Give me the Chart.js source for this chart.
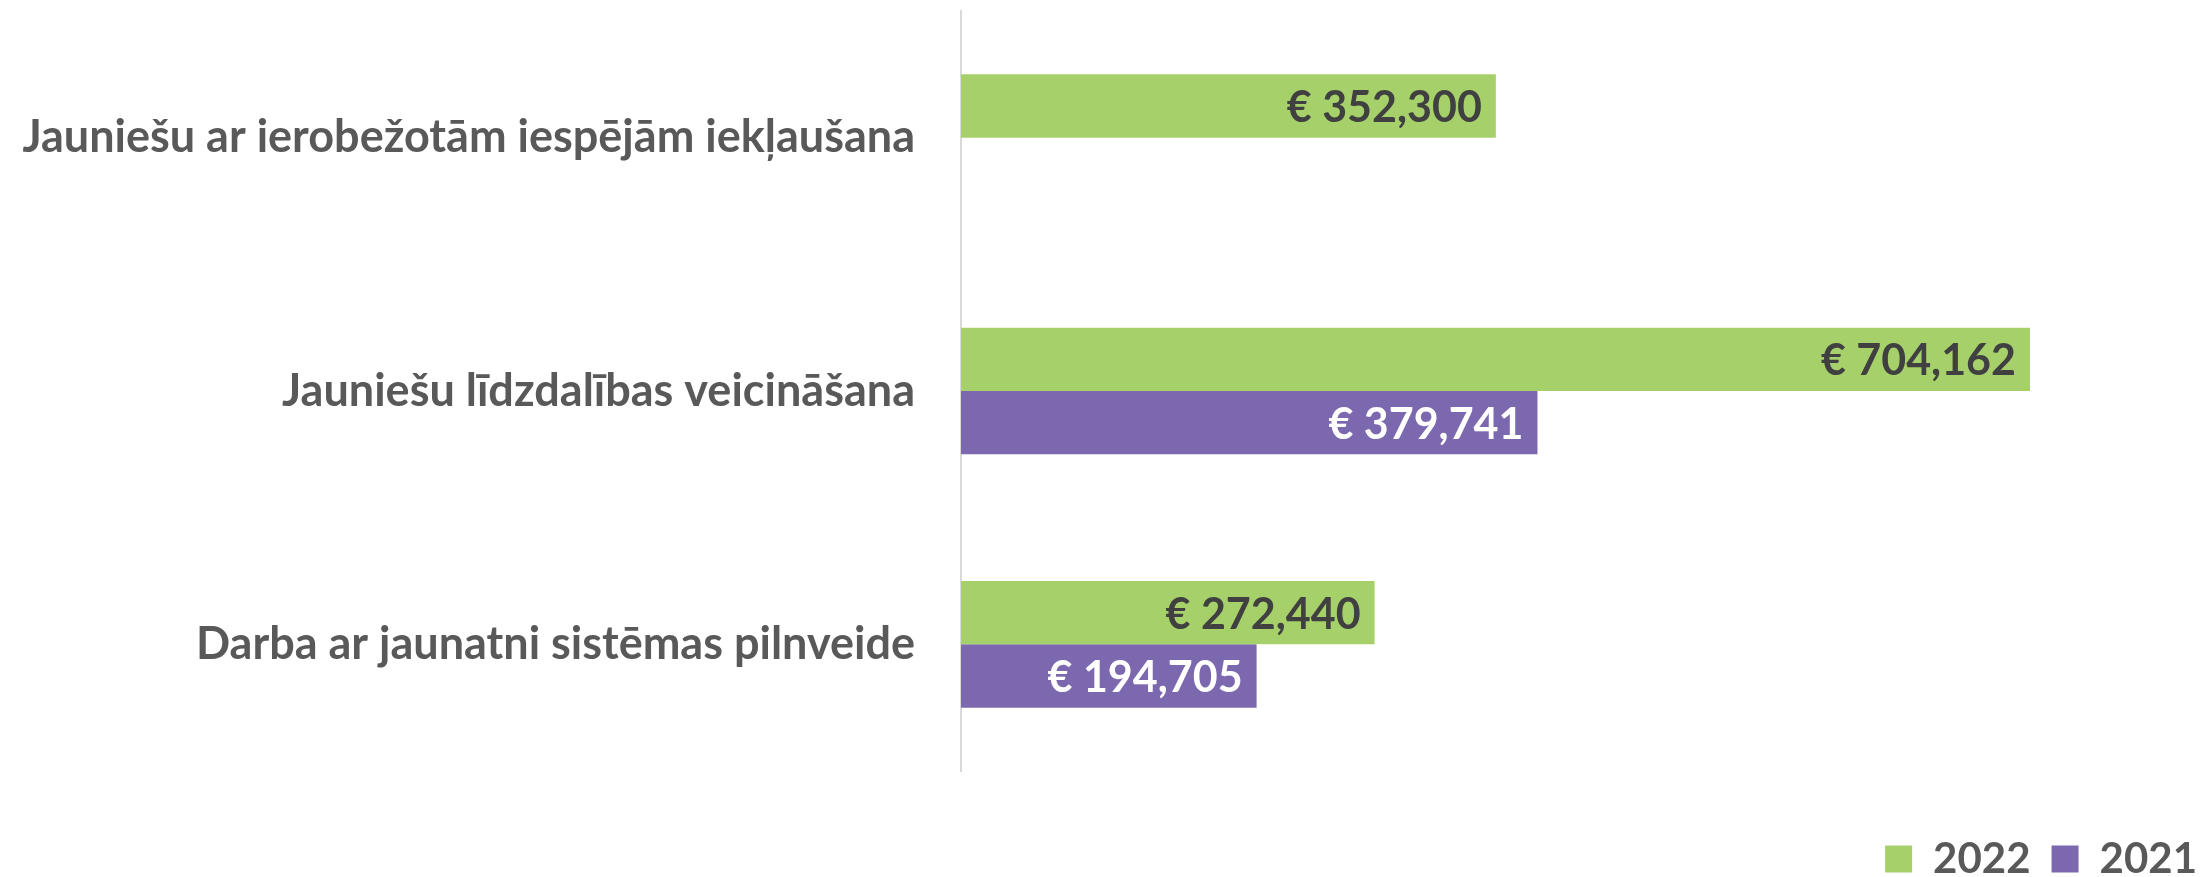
<!DOCTYPE html>
<html>
<head>
<meta charset="utf-8">
<script src="https://cdn.jsdelivr.net/npm/chart.js@4/dist/chart.umd.min.js"></script>
<style>
    html, body { margin: 0; padding: 0; background: #fff; overflow: hidden; }
    /* canvas a bit larger than the window so the legend sits low and right, as in the original */
    #wrap { width: 2218px; height: 890px; }
</style>
</head>
<body>
<div id="wrap"><canvas id="budgetChart"></canvas></div>
<script>
// Chart data
const categories = [
    'Jauniešu ar ierobežotām iespējām iekļaušana',
    'Jauniešu līdzdalības veicināšana',
    'Darba ar jaunatni sistēmas pilnveide'
];
const seriesNames = ['2022', '2021'];
const values2022 = [352300, 704162, 272440];
const values2021 = [null, 379741, 194705];

const green = '#A6D16A';
const purple = '#7B68AE';
const fontFamily = 'Lato, "Open Sans", sans-serif';

// Formats 352300 as "€ 352,300"
function euro(v) {
    return '€ ' + v.toLocaleString('en-US');
}

// Value labels inside the end of each bar
const barLabels = {
    id: 'barLabels',
    afterDatasetsDraw(chart) {
        const ctx = chart.ctx;
        ctx.save();
        ctx.font = 'bold 43px ' + fontFamily;
        ctx.textAlign = 'right';
        ctx.textBaseline = 'middle';
        chart.data.datasets.forEach((ds, i) => {
            const meta = chart.getDatasetMeta(i);
            meta.data.forEach((bar, j) => {
                const v = ds.data[j];
                if (v === null || v === undefined) return;
                ctx.fillStyle = i === 0 ? '#404040' : '#FFFFFF';
                ctx.fillText(euro(v), bar.x - 14, bar.y + 2);
            });
        });
        ctx.restore();
    }
};

const ctx = document.getElementById('budgetChart').getContext('2d');

new Chart(ctx, {
    type: 'bar',
    data: {
        labels: categories,
        datasets: [
            {
                label: seriesNames[0],
                data: values2022,
                backgroundColor: green,
                categoryPercentage: 0.5,
                barPercentage: 1.0
            },
            {
                label: seriesNames[1],
                data: values2021,
                backgroundColor: purple,
                categoryPercentage: 0.5,
                barPercentage: 1.0
            }
        ]
    },
    options: {
        indexAxis: 'y',
        responsive: true,
        maintainAspectRatio: false,
        animation: false,
        layout: {
            padding: { top: 11, right: 0, bottom: 0, left: 0 }
        },
        scales: {
            x: {
                min: 0,
                max: 828000,
                grid: { display: false },
                border: { display: false },
                ticks: { display: false },
                afterFit: function (scale) {
                    scale.height = 46;
                }
            },
            y: {
                grid: { display: false, drawTicks: false },
                border: { display: true, color: '#D9D9D9', width: 2 },
                ticks: {
                    color: '#595959',
                    padding: 46,
                    font: { family: fontFamily, size: 45, weight: 'bold' }
                },
                afterFit: function (scale) {
                    scale.width = 961;
                    // labels sit in the middle of tall bands, no extra room needed above/below
                    scale.paddingTop = 0;
                    scale.paddingBottom = 0;
                }
            }
        },
        plugins: {
            legend: {
                position: 'bottom',
                align: 'end',
                labels: {
                    boxWidth: 27,
                    boxHeight: 27,
                    padding: 21,
                    color: '#595959',
                    font: { family: fontFamily, size: 42, weight: 'bold' }
                }
            },
            tooltip: { enabled: false }
        }
    },
    plugins: [barLabels]
});
</script>
</body>
</html>
